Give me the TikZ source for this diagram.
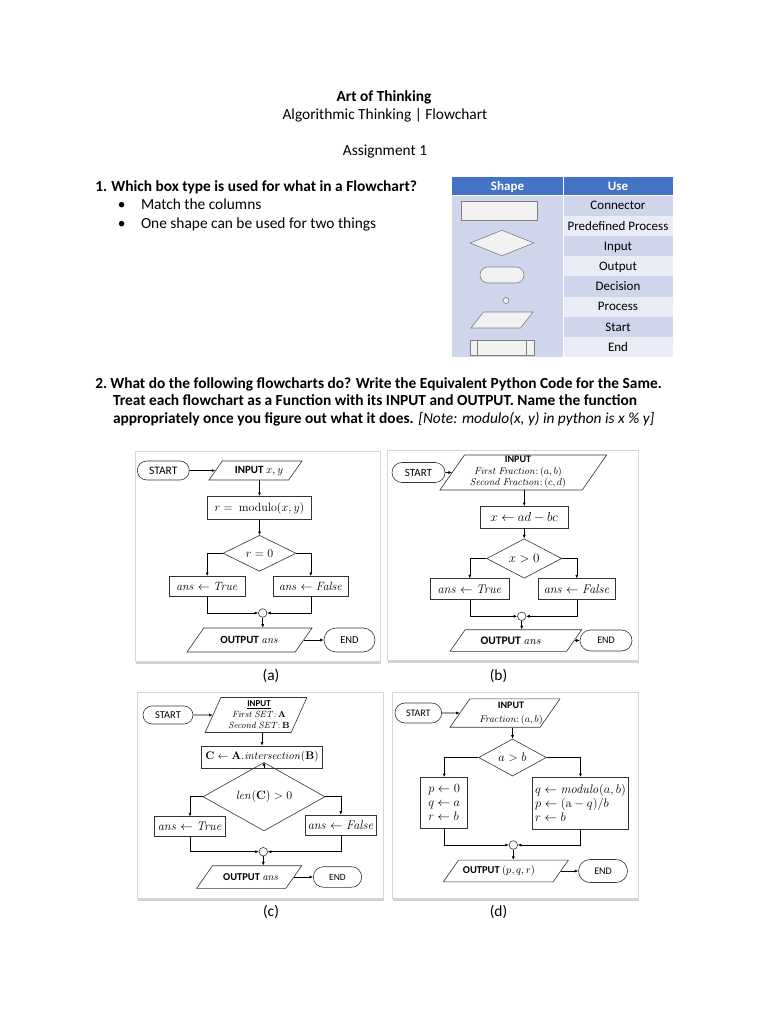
\RequirePackage{fix-cm}
\documentclass[tikz,border=0pt]{standalone}
\usepackage[no-math]{fontspec}
\setmainfont{Carlito}
\usetikzlibrary{shapes.geometric,shapes.misc,arrows.meta,shadows}
\definecolor{hdrblue}{HTML}{4472C4}
\definecolor{rowdark}{HTML}{CFD5EA}
\definecolor{rowlight}{HTML}{E9EBF5}
\definecolor{shpfill}{HTML}{F2F2F2}
\definecolor{shpline}{HTML}{7F7F7F}
\definecolor{framegray}{HTML}{D6D6D6}
\tikzset{
  txt/.style={inner sep=0pt, font=\fontsize{15.4}{18}\selectfont},
  txtb/.style={inner sep=0pt, font=\fontsize{15.4}{18}\selectfont\bfseries},
  cell/.style={inner sep=0pt, font=\fontsize{13}{15}\selectfont},
  shp/.style={draw=shpline, fill=shpfill, line width=0.6pt, inner sep=0pt},
  fc/.style={draw=black!80, line width=0.6pt, inner sep=0pt},
  lbl/.style={inner sep=0pt},
  term/.style={fc, rounded rectangle},
  proc/.style={fc, rectangle},
  io/.style={fc, rectangle, xslant=#1},
  io/.default=0.7,
  dec/.style={fc, diamond},
  junc/.style={fc, circle, minimum size=8.5pt},
  chartframe/.style={draw=framegray, line width=0.8pt, fill=white, drop shadow={shadow xshift=1.2pt, shadow yshift=-2.5pt, opacity=0.35}},
  fs/.style={font=\fontsize{#1}{#1}\selectfont},
}
\begin{document}
\begin{tikzpicture}[x=1pt, y=-1pt, >={Latex[length=3.5pt,width=3pt]}, line width=0.6pt]
\fill[white] (0,0) rectangle (768,1024);
\useasboundingbox (0,0) rectangle (768,1024);
\node[txtb, anchor=base] (title) at (384,101.7) {Art of Thinking};
\node[txt, anchor=base] (subtitle) at (385,119.3) {Algorithmic Thinking | Flowchart};
\node[txt, anchor=base] (assign) at (385,156) {Assignment 1};
\node[txtb, anchor=base west] (q1n) at (95,191.7) {1.};
\node[txtb, anchor=base west] (q1) at (111,191.7) {Which box type is used for what in a Flowchart?};
\node[txt, anchor=base] (b1) at (121.7,210) {•};
\node[txt, anchor=base west] (b1t) at (140.7,210) {Match the columns};
\node[txt, anchor=base] (b2) at (121.7,228.3) {•};
\node[txt, anchor=base west] (b2t) at (140.7,228.3) {One shape can be used for two things};
\fill[hdrblue] (452,177) rectangle (673,195.5);
\fill[rowdark] (452,195.5) rectangle (563,357);
\fill[rowdark] (563,195.5) rectangle (673,215.7);
\fill[rowlight] (563,215.7) rectangle (673,235.9);
\fill[rowdark] (563,235.9) rectangle (673,256.1);
\fill[rowlight] (563,256.1) rectangle (673,276.3);
\fill[rowdark] (563,276.3) rectangle (673,296.5);
\fill[rowlight] (563,296.5) rectangle (673,316.7);
\fill[rowdark] (563,316.7) rectangle (673,336.9);
\fill[rowlight] (563,336.9) rectangle (673,357);
\draw[white, line width=1pt] (563,177) -- (563,357);
\draw[white, line width=1pt] (452,195.5) -- (673,195.5);
\node[cell, font=\fontsize{13}{15}\selectfont\bfseries, text=white] (hshape) at (507.5,186.5) {Shape};
\node[cell, font=\fontsize{13}{15}\selectfont\bfseries, text=white] (huse) at (618,186.5) {Use};
\node[cell, anchor=base] (u1) at (618,209.8) {Connector};
\node[cell, anchor=base] (u2) at (618,230) {Predefined Process};
\node[cell, anchor=base] (u3) at (618,250.2) {Input};
\node[cell, anchor=base] (u4) at (618,270.4) {Output};
\node[cell, anchor=base] (u5) at (618,290.6) {Decision};
\node[cell, anchor=base] (u6) at (618,310.8) {Process};
\node[cell, anchor=base] (u7) at (618,331) {Start};
\node[cell, anchor=base] (u8) at (618,351.2) {End};
\node[shp, rectangle, minimum width=76pt, minimum height=19pt] (s1) at (499.7,210.5) {};
\node[shp, diamond, minimum width=64pt, minimum height=25.7pt] (s2) at (502,243) {};
\node[shp, rounded rectangle, minimum width=44pt, minimum height=16pt] (s3) at (502,275) {};
\node[shp, circle, minimum size=6pt] (s4) at (506,300.5) {};
\node[shp, rectangle, xslant=0.78, minimum width=49.5pt, minimum height=16pt] (s5) at (502,320) {};
\node[shp, rectangle, minimum width=64pt, minimum height=15pt] (s6) at (502,347.5) {};
\draw[shpline, line width=0.6pt] ([xshift=8pt]s6.north west) -- ([xshift=8pt]s6.south west);
\draw[shpline, line width=0.6pt] ([xshift=-8pt]s6.north east) -- ([xshift=-8pt]s6.south east);
\node[txtb, anchor=base west] (q2n) at (95,388.3) {2.};
\node[txtb, anchor=base west] (q2) at (110,388.3) {What do the following flowcharts do? Write the Equivalent Python Code for the Same.};
\node[txtb, anchor=base west] (q2b) at (112.7,405.7) {Treat each flowchart as a Function with its INPUT and OUTPUT. Name the function};
\node[txtb, anchor=base west] (q2c) at (112.7,423) {appropriately once you figure out what it does. \normalfont\itshape [Note: modulo(x, y) in python is x \% y]};
\draw[chartframe] (135,451) rectangle (380,661);
\draw[chartframe] (387,450) rectangle (638,660);
\draw[chartframe] (137,692) rectangle (383,898);
\draw[chartframe] (392,692) rectangle (638,898);
\node[term, fs=11.5, minimum width=52pt, minimum height=19pt] (a0) at (163.3,470.5) {START};
\node[io, minimum width=79.7pt, minimum height=19pt] (a1) at (255.5,470.5) {};
\node[lbl, fs=11] (a1t) at (259,470.5) {\textbf{INPUT} $x, y$};
\node[proc, fs=12, minimum width=104pt, minimum height=23.4pt] (a2) at (259.5,508) {$r =\ \mathrm{modulo}(x, y)$};
\node[dec, fs=12, minimum width=73pt, minimum height=36pt] (a3) at (259.5,553.3) {$r = 0$};
\node[proc, fs=12, minimum width=75.7pt, minimum height=20pt] (a4) at (207.2,586.3) {$\mathit{ans} \leftarrow \mathit{True}$};
\node[proc, fs=12, minimum width=75pt, minimum height=20pt] (a5) at (310.8,586.3) {$\mathit{ans} \leftarrow \mathit{False}$};
\node[junc] (a6) at (262.7,613) {};
\node[io, minimum width=108.2pt, minimum height=24pt] (a7) at (249.5,640) {};
\node[lbl, fs=11] (a7t) at (249.5,640) {\textbf{OUTPUT} $\mathit{ans}$};
\node[term, fs=10.5, minimum width=51pt, minimum height=24pt] (a8) at (349.5,640) {END};
\draw[->] (a0) -- (a1);
\draw[->] (a1.south -| a2) -- (a2);
\draw[->] (a2) -- (a3);
\draw[->] (a3.west) -| (a4.north);
\draw[->] (a3.east) -| (a5.north);
\draw[->] (a4.south) |- (a6.west);
\draw[->] (a5.south) |- (a6.east);
\draw[->] (a6) -- (a6 |- a7.north);
\draw[->] (a7) -- (a8);
\node[term, fs=11, minimum width=53pt, minimum height=20pt] (b0) at (418.5,472.5) {START};
\node[io, minimum width=142.2pt, minimum height=35pt] (b1) at (523.3,472.5) {};
\node[lbl, font=\fontsize{10}{11.5}\selectfont, align=center] (b1t) at (518,472.5) {\textbf{INPUT}\\$\mathit{First\ Fraction}{:}\,(a, b)$\\$\mathit{Second\ Fraction}{:}\,(c, d)$};
\node[proc, fs=13, minimum width=88.3pt, minimum height=21.7pt] (b2) at (524.2,517.2) {$x \leftarrow ad - bc$};
\node[dec, fs=13, minimum width=75pt, minimum height=31pt] (b3) at (524.2,558.5) {$x > 0$};
\node[proc, fs=12.5, minimum width=78.3pt, minimum height=21pt] (b4) at (469.8,589.2) {$\mathit{ans} \leftarrow \mathit{True}$};
\node[proc, fs=12.5, minimum width=77.7pt, minimum height=21pt] (b5) at (576.8,589.2) {$\mathit{ans} \leftarrow \mathit{False}$};
\node[junc] (b6) at (521.7,616.3) {};
\node[io, minimum width=116.6pt, minimum height=21.6pt] (b7) at (515.9,640.5) {};
\node[lbl, fs=11.5] (b7t) at (511,640.5) {\textbf{OUTPUT} $\mathit{ans}$};
\node[term, fs=10, minimum width=52pt, minimum height=21pt] (b8) at (606,640.5) {END};
\draw[->] (b0) -- (b1);
\draw[->] (b1.south -| b2) -- (b2);
\draw[->] (b2) -- (b3);
\draw[->] (b3.west) -| (b4.north);
\draw[->] (b3.east) -| (b5.north);
\draw[->] (b4.south) |- (b6.west);
\draw[->] (b5.south) |- (b6.east);
\draw[->] (b6) -- (b6 |- b7.north);
\draw[->] (b7) -- (b8);
\node[term, fs=10.5, minimum width=50pt, minimum height=18pt] (c0) at (168,715) {START};
\node[io=0.45, minimum width=86pt, minimum height=35pt] (c1) at (256,715) {};
\node[lbl, font=\fontsize{9}{11}\selectfont, align=center] (c1t) at (259,715) {\underline{\textbf{INPUT}}\\$\mathit{First\ SET}{:}\,\mathbf{A}$\\$\mathit{Second\ SET}{:}\,\mathbf{B}$};
\node[proc, fs=11, minimum width=121pt, minimum height=22pt] (c2) at (262,757) {$\mathbf{C} \leftarrow \mathbf{A}.\mathit{intersection}(\mathbf{B})$};
\node[dec, fs=12, minimum width=122pt, minimum height=32pt] (c3) at (264,796.7) {$\mathit{len}(\mathbf{C}) > 0$};
\node[proc, fs=12.5, minimum width=71.4pt, minimum height=20pt] (c4) at (190,826.7) {$\mathit{ans} \leftarrow \mathit{True}$};
\node[proc, fs=12.5, minimum width=71.7pt, minimum height=20pt] (c5) at (340.8,825) {$\mathit{ans} \leftarrow \mathit{False}$};
\node[junc] (c6) at (263.3,851.7) {};
\node[io, minimum width=89.2pt, minimum height=22.6pt] (c7) at (249.2,877) {};
\node[lbl, fs=10.5] (c7t) at (251,877) {\textbf{OUTPUT} $\mathit{ans}$};
\node[term, fs=9.5, minimum width=48.4pt, minimum height=20.6pt] (c8) at (337.5,877) {END};
\draw[->] (c0) -- (c1);
\draw[->] (c1.south -| c2) -- (c2);
\draw[->] (c2.south -| c3) -- (c3);
\draw[->] (c3.west) -| (c4.north);
\draw[->] (c3.east) -| (c5.north);
\draw[->] (c4.south) |- (c6.west);
\draw[->] (c5.south) |- (c6.east);
\draw[->] (c6) -- (c6 |- c7.north);
\draw[->] (c7) -- (c8);
\node[term, fs=10, minimum width=46.7pt, minimum height=20pt] (d0) at (418.3,713) {START};
\node[io, minimum width=90.1pt, minimum height=28.4pt] (d1) at (505,713) {};
\node[lbl, font=\fontsize{10}{14}\selectfont, align=center] (d1t) at (511,713) {\textbf{INPUT}\\$\mathit{Fraction}{:}\,(a, b)$};
\node[dec, fs=12.5, minimum width=67.7pt, minimum height=31.6pt] (d2) at (512.5,757.5) {$a > b$};
\node[proc, font=\fontsize{12.5}{14}\selectfont, align=left, minimum width=47pt, minimum height=51pt] (d3) at (444.2,802.8) {$p \leftarrow 0$\\$q \leftarrow a$\\$r \leftarrow b$};
\node[proc, font=\fontsize{12.5}{14}\selectfont, align=left, minimum width=95.6pt, minimum height=52pt] (d4) at (580.5,803.3) {$q \leftarrow \mathit{modulo}(a, b)$\\$p \leftarrow (\mathrm{a} - q)/b$\\$r \leftarrow b$};
\node[junc] (d5) at (513.3,845) {};
\node[io, minimum width=109.8pt, minimum height=21.7pt] (d6) at (505.8,871) {};
\node[lbl, fs=10.5] (d6t) at (499,871) {\textbf{OUTPUT} $(p, q, r)$};
\node[term, fs=10, minimum width=49pt, minimum height=23pt] (d7) at (603,871) {END};
\draw[->] (d0) -- (d1);
\draw[->] (d1.south -| d2) -- (d2);
\draw[->] (d2.west) -| (d3.north);
\draw[->] (d2.east) -| (d4.north);
\draw[->] (d3.south) |- (d5.west);
\draw[->] (d4.south) |- (d5.east);
\draw[->] (d5) -- (d5 |- d6.north);
\draw[->] (d6) -- (d7);
\node[txt] (la) at (271,675.5) {(a)};
\node[txt] (lb) at (498.5,675.5) {(b)};
\node[txt] (lc) at (271,912) {(c)};
\node[txt] (ld) at (498.5,912) {(d)};
\end{tikzpicture}
\end{document}
